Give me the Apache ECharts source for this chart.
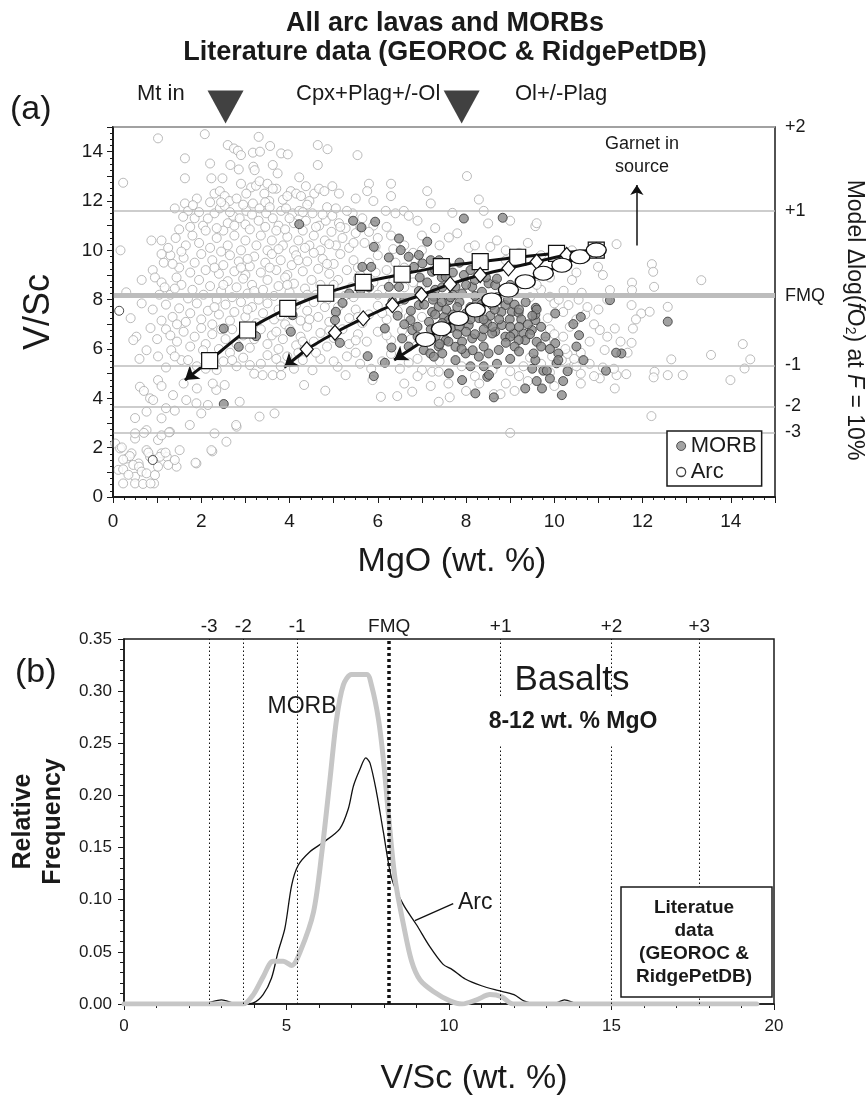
<!DOCTYPE html>
<html><head><meta charset="utf-8">
<script src="https://cdn.jsdelivr.net/npm/echarts@6/dist/echarts.min.js"></script>
<style>html,body{margin:0;padding:0;background:#fff}#c{width:866px;height:1097px}</style>
</head><body><div id="c"></div>
<script>
// ---------- Panel (a): scatter data (MgO wt.%, V/Sc) ----------
const arcPoints = [
[1.02,14.54],[2.08,14.71],[3.30,14.60],[1.63,13.73],[2.20,13.52],[2.60,14.27],[2.74,14.13],[2.83,14.04],[2.90,13.86],[3.17,13.96],[3.33,14.0],[2.66,13.46],[2.85,13.28],[3.18,13.39],[3.21,13.25],[3.56,14.23],[3.62,13.46],[3.73,13.12],[3.81,13.93],[3.96,13.89],[4.64,14.27],[4.86,14.10],[4.64,13.46],[5.54,13.86],
[1.63,12.92],[2.23,12.92],[2.48,12.92],[2.9,12.7],[3.13,12.55],[3.24,12.62],[3.32,12.8],[3.5,12.7],[4.22,12.96],[5.8,12.7],[0.23,12.74],[3.7,12.5],
[2.30,12.3],[2.42,12.4],[2.53,12.2],[2.64,12.0],[3.02,12.3],[3.43,12.3],[3.54,12.0],[3.62,12.5],[4.03,12.4],[4.15,12.3],[4.26,12.2],[4.37,12.6],[4.56,12.3],[4.67,12.5],[4.79,12.4],[4.97,12.6],[5.12,12.3],[5.76,12.4],[7.12,12.4],[1.9,12.1],[2.8,12.1],[3.85,12.05],[4.45,12.0],
[1.63,11.9],[1.70,11.6],[1.85,11.3],[2.04,11.0],[2.30,11.5],[2.42,11.7],[2.53,11.8],[2.72,11.4],[2.87,11.3],[3.02,11.6],[3.17,11.9],[3.32,11.7],[3.47,11.5],[3.62,11.3],[3.81,11.6],[3.92,11.7],[4.07,11.5],[4.22,11.6],[4.37,11.2],[4.52,11.5],[4.67,11.0],[4.82,11.2],[4.97,11.4],[5.12,11.1],[5.27,10.9],[5.43,11.5],[5.65,11.3],[6.18,11.6],[6.40,11.5],[6.59,11.6],[6.70,11.4],[1.40,11.7],[1.81,11.83],[2.15,11.29],[1.59,11.36],[2.6,11.1],[3.0,11.05],[3.3,11.2],[3.75,11.0],[4.1,11.1],[5.9,11.0],[6.9,11.2],
[0.87,10.4],[1.10,10.4],[0.17,10.0],[1.42,10.5],[1.65,10.2],[1.8,10.6],[1.95,10.3],[2.1,10.8],[2.2,10.1],[2.35,10.5],[2.5,10.8],[2.6,10.2],[2.75,10.6],[2.9,10.0],[3.0,10.4],[3.1,10.85],[3.25,10.2],[3.35,10.6],[3.5,10.0],[3.6,10.4],[3.7,10.8],[3.85,10.2],[3.95,10.55],[4.1,10.0],[4.2,10.4],[4.3,10.8],[4.45,10.2],[4.55,10.6],[4.7,10.0],[4.8,10.4],[4.95,10.75],[5.05,10.2],[5.2,10.5],[5.35,10.1],[5.5,10.7],[5.7,10.3],[6.0,10.5],[6.3,10.6],[6.6,10.2],[7.0,10.6],
[0.9,9.2],[1.15,9.5],[1.3,9.8],[1.5,9.3],[1.6,9.7],[1.75,9.1],[1.85,9.5],[2.0,9.85],[2.1,9.2],[2.25,9.6],[2.4,9.05],[2.5,9.4],[2.65,9.8],[2.75,9.15],[2.85,9.55],[3.0,9.0],[3.1,9.35],[3.2,9.75],[3.35,9.1],[3.45,9.5],[3.6,9.85],[3.7,9.2],[3.8,9.6],[3.95,9.0],[4.05,9.4],[4.15,9.8],[4.3,9.15],[4.4,9.55],[4.55,9.9],[4.65,9.25],[4.75,9.65],[4.9,9.05],[5.0,9.45],[5.15,9.85],[5.3,9.2],[5.45,9.6],[5.6,9.0],[5.8,9.5],[6.0,9.8],[6.2,9.2],[6.4,9.5],[6.8,9.9],
[0.65,8.8],[0.95,8.9],[1.10,8.7],[1.17,8.5],[1.44,8.9],[1.3,8.2],[1.55,8.6],[1.7,8.05],[1.8,8.4],[1.95,8.8],[2.05,8.2],[2.2,8.55],[2.35,8.0],[2.45,8.35],[2.6,8.75],[2.7,8.1],[2.8,8.5],[2.95,8.85],[3.05,8.25],[3.15,8.6],[3.3,8.0],[3.4,8.4],[3.5,8.8],[3.65,8.15],[3.75,8.55],[3.9,8.9],[4.0,8.3],[4.1,8.65],[4.25,8.05],[4.35,8.45],[4.5,8.8],[4.6,8.2],[4.7,8.6],[4.85,8.0],[4.95,8.4],[5.1,8.8],[5.25,8.15],[5.4,8.5],[5.55,8.85],[5.7,8.3],[5.9,8.7],[6.1,8.4],[6.35,8.75],[6.6,8.5],[0.3,8.3],
[0.65,7.85],[0.9,7.6],[1.2,7.8],[1.35,7.3],[1.5,7.65],[1.65,7.1],[1.75,7.45],[1.9,7.85],[2.0,7.2],[2.15,7.55],[2.25,7.0],[2.4,7.4],[2.55,7.8],[2.65,7.15],[2.75,7.5],[2.9,7.9],[3.0,7.3],[3.15,7.7],[3.25,7.05],[3.4,7.45],[3.5,7.85],[3.65,7.2],[3.75,7.6],[3.9,7.0],[4.0,7.4],[4.15,7.8],[4.25,7.15],[4.4,7.55],[4.55,7.9],[4.65,7.3],[4.8,7.7],[4.9,7.1],[5.05,7.45],[5.2,7.85],[5.35,7.25],[5.5,7.6],[5.65,7.05],[5.8,7.4],[6.0,7.75],[6.2,7.2],[6.45,7.55],[6.7,7.3],[0.4,7.25],
[0.53,6.5],[0.46,6.36],[0.76,5.95],[1.0,6.4],[1.2,6.8],[1.32,5.95],[1.45,6.3],[1.6,6.7],[1.75,6.1],[1.85,6.5],[2.0,6.85],[2.1,6.2],[2.25,6.6],[2.4,6.0],[2.55,6.4],[2.7,6.8],[2.8,6.2],[2.95,6.55],[3.1,6.05],[3.2,6.4],[3.35,6.8],[3.5,6.2],[3.6,6.55],[3.75,6.0],[3.85,6.4],[4.0,6.8],[4.15,6.15],[4.25,6.5],[4.4,6.9],[4.55,6.3],[4.7,6.65],[4.85,6.1],[5.0,6.45],[5.2,6.8],[5.35,6.2],[5.55,6.6],[5.75,6.3],[6.0,6.7],[6.3,6.35],[6.55,6.75],
[1.02,5.7],[1.55,5.55],[1.70,5.55],[2.04,5.95],[1.9,5.3],[2.2,5.6],[2.35,5.15],[2.5,5.5],[2.65,5.85],[2.8,5.3],[2.95,5.65],[3.2,5.0],[3.35,5.4],[3.5,5.75],[3.62,4.94],[3.8,5.3],[3.95,5.7],[4.1,5.2],[4.3,5.55],[4.52,5.14],[4.7,5.6],[5.09,5.28],[5.3,5.7],[5.6,5.4],[6.1,5.5],[6.5,5.2],[6.9,5.6],[7.23,5.08],[7.38,5.08],
[0.61,4.47],[0.7,4.3],[0.84,4.0],[1.02,4.74],[1.10,4.5],[1.36,4.13],[1.66,3.93],[2.34,4.34],[2.53,4.54],[2.26,4.6],[2.87,3.86],[3.39,4.94],[3.81,4.94],[4.33,4.54],[4.81,4.31],[5.27,4.94],[5.88,4.74],[6.07,4.06],[6.44,4.09],[6.78,4.27],[7.38,3.86],[1.6,4.6],[1.9,4.4],
[0.76,3.46],[0.91,3.93],[1.10,3.19],[1.89,3.8],[2.0,3.39],[2.15,3.73],[3.32,3.26],[3.66,3.39],[2.8,2.85],[1.4,3.5],[0.5,3.2],[1.2,3.6],
[0.76,2.71],[0.50,2.37],[0.05,2.17],[0.16,1.97],[1.02,2.31],[1.10,2.5],[1.29,2.64],[1.74,2.92],[2.30,2.58],[2.57,2.24],[2.79,2.92],[0.5,2.58],[0.7,2.6],[1.27,2.62],[2.25,1.85],
[0.31,1.56],[0.42,1.77],[0.58,1.36],[0.76,1.9],[0.84,1.63],[1.10,1.77],[1.22,1.63],[1.44,1.23],[1.51,1.9],[1.89,1.36],[2.23,1.9],[0.20,2.01],[0.38,1.66],[0.23,1.52],[0.12,1.1],[0.23,1.12],[0.46,1.3],[0.59,1.23],[0.50,0.82],[0.23,0.55],[0.50,0.55],[0.68,0.53],[0.93,0.55],[0.65,1.03],[0.76,0.96],[0.95,0.89],[0.80,1.8],[1.02,1.23],[1.06,1.63],[1.19,1.80],[1.25,1.30],[1.40,1.50],[1.87,1.39],[0.85,0.55],[0.35,0.9],
[2.45,11.95],[2.95,11.85],[3.45,11.95],[3.95,12.2],[4.4,11.85],[4.85,11.75],[5.3,11.6],[5.5,12.1],[2.2,11.95],[1.95,11.55],[2.65,11.55],[3.15,11.45],[3.55,11.75],[4.0,11.3],[4.3,11.55],[4.75,11.45],[5.05,11.7],[5.6,10.95],[1.5,10.85],[1.75,10.95],[2.35,10.9],[2.75,11.0],[3.45,10.95],[3.9,10.85],[4.6,10.95],[5.15,10.95],[5.8,10.75],[6.2,10.95],[1.25,10.1],[1.55,9.95],[2.45,9.95],[3.05,9.65],[3.75,10.05],[4.35,10.1],[4.9,10.25],[5.45,10.3],[5.95,10.15],[6.35,10.05],[1.1,9.85],[1.35,9.45],[2.3,9.3],[2.9,9.3],[3.55,9.3],[4.2,9.6],[4.85,9.45],[5.55,9.3],[5.95,9.1],[6.6,9.3],[1.05,8.2],[1.4,8.45],[2.5,8.6],[3.2,8.35],[3.95,8.6],[4.4,8.2],[5.0,8.6],[5.45,8.1],[6.0,8.2],[6.8,8.7],[1.1,7.15],[1.45,7.0],[2.3,7.7],[3.05,7.6],[3.8,7.35],[4.45,7.2],[5.1,7.7],[5.55,7.3],[6.1,7.45],[6.5,7.95],[0.85,6.85],[1.3,6.55],[2.45,6.8],[3.05,6.7],[3.7,6.7],[4.3,6.3],[4.9,6.75],[5.5,6.35],[6.2,6.55],[6.75,6.4],[0.6,5.6],[1.2,5.25],[1.4,5.7],[2.1,5.2],[2.7,5.55],[3.1,5.35],[3.7,5.6],[4.2,5.85],[4.6,5.85],[5.0,5.5],[5.5,5.85],[5.85,5.2],[6.3,5.8],[6.7,5.45],[7.0,5.15],
[8.02,13.01],[8.29,12.06],[7.69,11.52],[8.50,11.09],[9.57,10.98],[9.6,11.1],[7.80,10.69],[7.61,10.52],[8.06,10.10],[8.2,10.2],[8.55,10.14],[9.2,9.9],[10.99,9.33],[11.41,10.25],[12.21,9.44],[12.24,9.13],[11.76,8.69],[11.76,8.39],[12.26,8.52],[13.33,8.79],[11.26,8.39],[10.62,8.28],[10.21,8.36],[10.55,8.0],[9.9,8.12],[10.0,7.85],[10.32,7.78],[11.03,6.77],[11.37,6.83],[11.75,7.78],[11.97,7.44],[12.16,7.51],[12.57,7.71],[11.85,7.2],[11.78,6.83],[11.75,6.25],[11.14,5.96],[11.66,5.85],[12.65,5.58],[12.57,4.94],[12.91,4.94],[12.27,5.08],[12.25,4.85],[11.63,4.98],[11.41,4.94],[11.03,4.81],[11.37,4.4],[12.2,3.28],[13.55,5.76],[14.27,6.2],[14.44,5.58],[14.31,5.21],[13.99,4.74],[9.0,2.6],[7.63,4.04],[8.63,4.17],[8.78,4.17],[10.17,5.55],[10.32,5.21],[10.45,5.35],[9.9,5.05],[10.6,5.0],[10.5,5.3],[9.2,4.9],[8.9,4.6],[8.2,4.9],[8.0,4.3],[7.9,5.3],[10.8,6.3],[10.9,7.0],[10.7,7.4],[9.9,6.8],[10.2,6.5],[7.3,10.9],[7.0,10.0],[6.85,9.6],[7.3,9.3],[9.2,8.6],[9.7,8.4],[10.4,8.8],[8.9,9.6],[9.4,10.3],[7.2,11.9],[6.3,12.7],[6.3,12.2],[5.9,12.0],
[9.3,5.3],[9.45,5.65],[9.7,5.4],[9.95,5.7],[10.3,5.8],[10.45,5.6],[10.6,5.85],[10.25,6.0],[9.8,6.3],[10.0,6.6],[10.35,6.9],[10.5,7.2],[10.2,7.5],[9.85,7.25],[10.75,7.7],[11.0,7.6],[11.2,8.0],[10.1,8.0],[9.45,8.1],[9.6,8.6],[9.9,8.9],[10.5,9.1],[11.1,9.0],[10.9,4.9],[11.1,5.25],[11.35,5.2],[10.8,5.4],[11.5,6.3],[11.2,6.5],[9.0,5.1],[8.6,5.15],[8.3,4.6],[9.4,4.7],[10.0,4.5],[10.6,4.6],[9.1,4.3],[7.6,4.6],[7.2,4.5],[6.9,4.9],[6.6,4.6],[7.4,5.5],[7.0,7.3],[7.0,8.6],[7.4,10.2],[8.7,10.4],[8.9,10.0],[9.7,9.8],[10.4,10.0],[8.4,11.6],[9.0,11.2]
];
const arcDarkPoints = [[0.14,7.55],[0.9,1.5]];
const morbPoints = [
[4.22,11.06],[5.44,11.2],[5.63,10.93],[5.94,11.16],[5.91,10.14],[6.48,10.48],[6.52,10.01],[6.93,9.81],[7.12,10.35],[6.25,9.71],[5.65,9.33],[5.85,9.33],[5.61,8.39],[5.8,8.5],[5.35,8.25],[5.20,7.87],[5.05,7.51],[5.03,7.17],[4.03,6.7],[4.07,7.37],[2.51,6.83],[3.24,6.52],[2.85,6.09],[5.14,6.25],[5.77,5.71],[5.91,4.9],[6.16,5.44],[6.31,6.06],[6.16,6.83],[6.55,6.43],[6.74,7.17],[6.78,6.77],[6.93,7.78],[7.16,7.1],[7.23,7.5],[7.38,7.71],[7.5,7.3],[7.04,5.96],[7.19,5.82],[7.38,6.1],[2.51,3.77],[6.33,7.92],[6.25,8.52],[6.48,8.52],[6.63,8.93],[6.82,9.33],[6.70,9.74],[7.01,9.47],[7.23,9.13],[7.12,8.7],[6.93,8.35],[7.3,8.4],[7.45,8.9],[6.6,8.0],[6.95,8.9],[7.2,9.6],
[7.95,11.29],[8.83,11.32],[7.39,9.6],[7.3,9.2],[7.54,8.93],[7.46,8.5],[7.27,8.12],[7.61,7.98],[7.76,8.52],[7.91,8.25],[8.14,8.52],[8.36,8.32],[8.51,8.66],[8.66,8.59],[8.25,7.91],[8.59,7.78],[8.89,7.78],[9.04,7.51],[9.19,7.47],[8.99,7.2],[8.81,6.97],[8.66,6.7],[8.48,7.04],[8.29,7.25],[8.06,6.97],[7.84,6.9],[7.61,7.17],[7.46,7.05],[7.31,6.5],[7.54,6.36],[7.76,6.09],[7.91,6.3],[8.14,6.43],[8.36,6.5],[8.59,6.63],[8.89,6.5],[9.08,6.63],[9.3,6.63],[9.49,6.77],[9.57,7.17],[9.58,7.67],[9.57,7.4],[9.34,6.36],[9.19,6.36],[9.0,6.5],[8.74,5.96],[8.51,5.82],[8.29,5.69],[7.99,5.82],[7.76,5.55],[7.46,5.82],[7.27,5.69],[7.61,5.01],[7.91,4.74],[8.21,4.2],[8.63,4.04],[8.48,4.87],[8.52,4.95],[9.34,4.4],[9.72,4.4],[10.17,4.13],[9.75,5.12],[9.83,5.12],[10.05,5.42],[10.09,5.82],[10.02,6.23],[10.09,5.55],[9.57,5.55],[9.53,5.82],[9.6,6.29],[10.02,7.44],[9.6,7.6],[10.43,7.01],[10.56,6.56],[10.66,5.55],[11.17,5.12],[11.26,7.98],[11.52,5.82],[12.57,7.11],
[7.7,8.2],[7.85,7.9],[8.0,8.6],[8.1,7.7],[8.2,8.15],[8.3,7.5],[8.45,7.95],[8.55,7.35],[8.7,8.1],[8.8,7.5],[8.95,8.0],[9.1,7.8],[9.25,7.2],[9.4,7.0],[9.45,6.6],[9.2,6.9],[9.0,6.9],[8.75,7.2],[8.6,6.9],[8.4,6.8],[8.2,6.6],[8.0,6.7],[7.8,6.6],[7.65,6.85],[7.5,6.7],[7.4,6.9],[7.7,7.4],[7.9,7.3],[8.1,7.2],[7.55,7.6],[7.8,7.7],[8.0,7.45],[8.35,7.8],[8.65,7.6],[8.4,7.2],[7.3,7.4],[7.65,8.1],[7.45,7.9],[8.9,6.25],[9.1,6.1],[8.4,6.1],[8.15,5.95],[7.9,6.0],[7.6,6.3],[7.4,6.2],[7.1,6.4],[7.2,6.8],[6.9,6.5],[6.7,6.1],[6.9,6.9],[6.6,7.0],[6.45,7.35],[6.75,7.55],[7.05,7.8],[7.25,8.0],[8.85,8.3],[9.0,8.6],[8.7,8.85],[8.45,8.9],[8.2,8.8],[7.95,9.0],[7.7,9.1],[7.55,9.4],[7.85,9.5],[8.1,9.2],[9.2,7.6],[9.35,7.9],[9.5,7.35],[9.7,6.9],[9.8,6.5],[9.7,6.1],[9.9,6.0],
[9.5,5.2],[9.9,4.8],[10.3,5.1],[8.4,5.3],[8.7,5.4],[9.0,5.6],[9.2,5.9],[8.1,5.3],[9.6,4.7],[10.2,4.7],[10.5,6.1],[10.6,7.3],[11.4,5.85]
];
// model fractional-crystallisation paths (marker points), arrow tips at low-MgO end
const modelSquares  = [[2.19,5.53],[3.05,6.77],[3.96,7.65],[4.82,8.26],[5.67,8.70],[6.55,9.03],[7.44,9.34],[8.32,9.54],[9.17,9.72],[10.05,9.88],[10.95,10.01]];
const modelSquaresTip = [1.63,4.74];
const modelDiamonds = [[4.39,5.99],[5.03,6.66],[5.67,7.24],[6.33,7.78],[6.99,8.19],[7.64,8.63],[8.32,9.0],[8.96,9.27],[9.6,9.54],[10.28,9.81],[10.95,10.01]];
const modelDiamondsTip = [3.88,5.26];
const modelEllipses = [[7.08,6.39],[7.44,6.82],[7.83,7.24],[8.21,7.58],[8.58,7.99],[8.96,8.39],[9.34,8.73],[9.75,9.07],[10.17,9.40],[10.58,9.74],[10.95,10.01]];
const modelEllipsesTip = [6.37,5.55];
const phaseBoundaries = [2.55, 7.9];           // Mt in / Cpx+Plag+/-Ol boundaries (MgO)
const fo2LevelsA = [2.62, 3.67, 5.33, 8.16, 11.59, 15.0];
const fo2LabelsA = ['-3', '-2', '-1', 'FMQ', '+1', '+2'];
const garnetArrow = [[11.87,10.2],[11.87,12.65]];

// ---------- Panel (b): relative frequency of V/Sc ----------
const morbFreq = [[0,0],[1,0],[2,0],[3,0],[3.4,0],[3.67,0],[3.98,0.009],[4.28,0.026],[4.59,0.041],[4.9,0.041],[5.16,0.037],[5.42,0.05],[5.83,0.088],[6.09,0.146],[6.34,0.216],[6.54,0.273],[6.75,0.306],[7.0,0.316],[7.47,0.316],[7.62,0.305],[7.83,0.273],[7.98,0.235],[8.13,0.184],[8.34,0.12],[8.6,0.076],[8.85,0.041],[9.11,0.023],[9.52,0.012],[10.03,0.003],[10.4,0.0],[10.85,0.004],[11.26,0.009],[11.62,0.007],[11.97,0],[13,0],[15,0],[17,0],[19.47,0]];
const arcFreq = [[0,0],[2.4,0],[2.58,0.001],[3.0,0.004],[3.37,0.001],[3.67,0],[3.98,0.001],[4.28,0.009],[4.54,0.025],[4.74,0.05],[4.95,0.0725],[5.16,0.114],[5.36,0.133],[5.72,0.146],[6.13,0.155],[6.64,0.168],[6.9,0.187],[7.06,0.209],[7.26,0.225],[7.44,0.236],[7.57,0.231],[7.77,0.203],[7.98,0.165],[8.24,0.12],[8.6,0.095],[9.0,0.076],[9.41,0.055],[9.82,0.038],[10.1,0.033],[10.5,0.024],[11.0,0.0175],[11.5,0.013],[12.0,0.009],[12.3,0.003],[12.7,0],[13.3,0.001],[13.55,0.004],[14.0,0],[15,0],[19.47,0]];
const fo2LevelsB = [2.62, 3.67, 5.33, 8.16, 11.59, 15.0, 17.7];
const fo2LabelsB = ['-3', '-2', '-1', 'FMQ', '+1', '+2', '+3'];
const arcLeader = [[8.95,0.080],[10.13,0.0963]];

const FF = "'Liberation Sans', Arial, Helvetica, sans-serif";
const K = '#1a1a1a';
const chart = echarts.init(document.getElementById('c'), null, {renderer: 'canvas'});

function txt(x, y, text, size, opts) {
  return Object.assign({type: 'text', x: x, y: y, z: 50,
    style: Object.assign({text: text, font: (opts && opts.bold ? 'bold ' : '') + size + 'px ' + FF,
      fill: K, align: 'left', verticalAlign: 'middle'}, (opts && opts.style) || {})}, (opts && opts.el) || {});
}

const option = {
  animation: false,
  textStyle: {fontFamily: FF, color: K},
  grid: [
    {left: 113, top: 127, width: 662, height: 370, show: true, borderColor: K, borderWidth: 1.5, backgroundColor: '#fff'},
    {left: 124, top: 639, width: 650, height: 367, show: true, borderColor: K, borderWidth: 1.5, backgroundColor: '#fff'}
  ],
  legend: {
    data: [
      {name: 'MORB', itemStyle: {color: '#8c8c8c', borderColor: '#333', borderWidth: 1}},
      {name: 'Arc', itemStyle: {color: '#fff', borderColor: '#111', borderWidth: 1.3}}
    ],
    orient: 'vertical', left: 667, top: 431, icon: 'circle',
    itemWidth: 9, itemHeight: 9, itemGap: 4,
    padding: [4, 5, 3, 9], borderColor: K, borderWidth: 1.5, backgroundColor: '#fff',
    textStyle: {fontSize: 22, color: K, fontFamily: FF}, z: 20, selectedMode: false
  },
  xAxis: [
    {gridIndex: 0, type: 'value', min: 0, max: 15, interval: 1,
     axisLine: {lineStyle: {color: K, width: 1.5}},
     axisTick: {length: 6, lineStyle: {color: K}},
     minorTick: {show: true, splitNumber: 4, length: 3, lineStyle: {color: K}},
     splitLine: {show: false},
     axisLabel: {formatter: v => (v % 2 === 0 && v < 15) ? String(v) : '', fontSize: 19, color: K, margin: 15},
     name: 'MgO (wt. %)', nameLocation: 'middle', nameGap: 48,
     nameTextStyle: {fontSize: 34, color: K, padding: [0, 0, 0, 16]}},
    {gridIndex: 1, type: 'value', min: 0, max: 20, interval: 5,
     axisLine: {lineStyle: {color: K, width: 1.5}},
     axisTick: {length: 6, lineStyle: {color: K}},
     minorTick: {show: true, splitNumber: 5, length: 4, lineStyle: {color: K}},
     splitLine: {show: false},
     axisLabel: {fontSize: 17, color: K, margin: 14},
     name: 'V/Sc (wt. %)', nameLocation: 'middle', nameGap: 58,
     nameTextStyle: {fontSize: 34, color: K, padding: [0, 0, 0, 50]}},
    {gridIndex: 0, type: 'value', min: 0, max: 15, position: 'top', z: 5,
     axisLine: {lineStyle: {color: K, width: 1.5}}, axisTick: {show: false}, axisLabel: {show: false}, splitLine: {show: false}}
  ],
  yAxis: [
    {gridIndex: 0, type: 'value', min: 0, max: 15, interval: 1,
     axisLine: {lineStyle: {color: K, width: 1.5}},
     axisTick: {length: 6, lineStyle: {color: K}},
     minorTick: {show: true, splitNumber: 4, length: 3, lineStyle: {color: K}},
     splitLine: {show: false},
     axisLabel: {formatter: v => (v % 2 === 0 && v < 15) ? String(v) : '', fontSize: 19, color: K, margin: 10},
     name: 'V/Sc', nameLocation: 'middle', nameGap: 56,
     nameTextStyle: {fontSize: 36, color: K}},
    {gridIndex: 1, type: 'value', min: 0, max: 0.35, interval: 0.05,
     axisLine: {lineStyle: {color: K, width: 1.5}},
     axisTick: {length: 6, lineStyle: {color: K}},
     minorTick: {show: true, splitNumber: 5, length: 4, lineStyle: {color: K}},
     splitLine: {show: false},
     axisLabel: {formatter: v => v.toFixed(2), fontSize: 17, color: K, margin: 12},
     name: 'Relative\nFrequency', nameLocation: 'middle', nameGap: 45,
     nameTextStyle: {fontSize: 25, fontWeight: 'bold', color: K, lineHeight: 30}},
    {gridIndex: 0, type: 'value', min: 0, max: 15, position: 'right', z: 5,
     axisLine: {lineStyle: {color: K, width: 1.5}}, axisTick: {show: false}, axisLabel: {show: false}, splitLine: {show: false}}
  ],
  series: [
    // fO2 reference lines, panel (a)
    {type: 'line', xAxisIndex: 0, yAxisIndex: 0, data: [], z: 1, silent: true,
     markLine: {silent: true, symbol: 'none', animation: false,
       label: {position: 'end', distance: 10, fontSize: 18, color: K, fontFamily: FF},
       data: fo2LevelsA.map((v, i) => ({yAxis: v,
         lineStyle: {color: '#bdbdbd', width: fo2LabelsA[i] === 'FMQ' ? 5 : 1.5, type: 'solid'},
         label: {formatter: fo2LabelsA[i]}}))}},
    {name: 'Arc', type: 'scatter', xAxisIndex: 0, yAxisIndex: 0, data: arcPoints, z: 2,
     symbol: 'circle', symbolSize: 9, itemStyle: {color: '#fff', borderColor: '#a9a9a9', borderWidth: 1}},
    {type: 'scatter', xAxisIndex: 0, yAxisIndex: 0, data: arcDarkPoints, z: 2,
     symbol: 'circle', symbolSize: 9, itemStyle: {color: '#fff', borderColor: '#222', borderWidth: 1}},
    {name: 'MORB', type: 'scatter', xAxisIndex: 0, yAxisIndex: 0, data: morbPoints, z: 3,
     symbol: 'circle', symbolSize: 9, itemStyle: {color: '#8a8a8a', borderColor: '#333', borderWidth: 1}},
    // arrow segments of the model paths
    {type: 'lines', coordinateSystem: 'cartesian2d', xAxisIndex: 0, yAxisIndex: 0, z: 4,
     symbol: ['none', 'arrow'], symbolSize: 13,
     lineStyle: {color: '#111', width: 3, opacity: 1},
     data: [{coords: [modelSquares[0], modelSquaresTip]}, {coords: [modelDiamonds[0], modelDiamondsTip]}, {coords: [modelEllipses[0], modelEllipsesTip]}]},
    {type: 'line', xAxisIndex: 0, yAxisIndex: 0, data: modelSquares, z: 5, smooth: 0.25,
     symbol: 'rect', symbolSize: 16, showSymbol: true,
     lineStyle: {color: '#111', width: 3}, itemStyle: {color: '#fff', borderColor: '#111', borderWidth: 1.2}},
    {type: 'line', xAxisIndex: 0, yAxisIndex: 0, data: modelDiamonds, z: 6, smooth: 0.25,
     symbol: 'diamond', symbolSize: [13, 15], showSymbol: true,
     lineStyle: {color: '#111', width: 3}, itemStyle: {color: '#fff', borderColor: '#111', borderWidth: 1.2}},
    {type: 'line', xAxisIndex: 0, yAxisIndex: 0, data: modelEllipses, z: 7, smooth: 0.25,
     symbol: 'circle', symbolSize: [20, 14], showSymbol: true,
     lineStyle: {color: '#111', width: 3}, itemStyle: {color: '#fff', borderColor: '#111', borderWidth: 1.2}},
    // garnet arrow
    {type: 'lines', coordinateSystem: 'cartesian2d', xAxisIndex: 0, yAxisIndex: 0, z: 8,
     symbol: ['none', 'arrow'], symbolSize: 10, lineStyle: {color: '#111', width: 1.5, opacity: 1},
     data: [{coords: garnetArrow}]},
    // phase-in triangles above panel (a)
    {type: 'scatter', xAxisIndex: 0, yAxisIndex: 0, z: 10, clip: false,
     data: phaseBoundaries.map(x => [x, 15]),
     symbol: 'triangle', symbolRotate: 180, symbolSize: [36, 33], symbolOffset: [0, -20],
     itemStyle: {color: '#111'}},
    // panel (b) fO2 reference lines
    {type: 'line', xAxisIndex: 1, yAxisIndex: 1, data: [], z: 1, silent: true,
     markLine: {silent: true, symbol: 'none', animation: false,
       label: {position: 'end', distance: 3, fontSize: 19, color: K, fontFamily: FF},
       data: fo2LevelsB.map((v, i) => ({xAxis: v,
         lineStyle: {color: '#111', width: fo2LabelsB[i] === 'FMQ' ? 3.5 : 1, type: fo2LabelsB[i] === 'FMQ' ? [3, 3] : [1.5, 2.5]},
         label: {formatter: fo2LabelsB[i]}}))}},
    {type: 'line', xAxisIndex: 1, yAxisIndex: 1, data: arcFreq, z: 3, smooth: 0.3, showSymbol: false,
     lineStyle: {color: '#111', width: 1.3}},
    {type: 'line', xAxisIndex: 1, yAxisIndex: 1, data: morbFreq, z: 4, smooth: 0.3, showSymbol: false,
     lineStyle: {color: '#c6c6c6', width: 5, cap: 'round', join: 'round'}},
    {type: 'lines', coordinateSystem: 'cartesian2d', xAxisIndex: 1, yAxisIndex: 1, z: 5,
     symbol: ['none', 'none'], lineStyle: {color: '#111', width: 1.3, opacity: 1},
     data: [{coords: arcLeader}]}
  ],
  graphic: [
    txt(445, 24, 'All arc lavas and MORBs', 27, {bold: true, style: {align: 'center'}}),
    txt(445, 53, 'Literature data (GEOROC & RidgePetDB)', 27, {bold: true, style: {align: 'center'}}),
    txt(10, 110, '(a)', 34),
    txt(137, 94, 'Mt in', 22),
    txt(296, 94, 'Cpx+Plag+/-Ol', 22),
    txt(515, 94, 'Ol+/-Plag', 22),
    txt(642, 156, 'Garnet in\nsource', 18, {style: {align: 'center', lineHeight: 23}}),
    {type: 'text', x: 854, y: 320, rotation: -Math.PI / 2, z: 50,
     style: {text: 'Model Δlog({i|f}O{s|2}) at {i|F} = 10%', font: '23px ' + FF, fill: K,
       align: 'center', verticalAlign: 'middle',
       rich: {i: {fontStyle: 'italic', fontSize: 23, fontFamily: FF, fill: K},
              s: {fontSize: 14, fontFamily: FF, fill: K, verticalAlign: 'bottom', padding: [9, 0, 0, 0]}}}},
    txt(15, 673, '(b)', 34),
    txt(302, 707, 'MORB', 23, {style: {align: 'center'}}),
    txt(458, 903, 'Arc', 23),
    {type: 'rect', z: 45, shape: {x: 486, y: 697, width: 175, height: 47}, style: {fill: '#fff'}},
    txt(572, 680, 'Basalts', 35, {style: {align: 'center'}}),
    txt(573, 722, '8-12 wt. % MgO', 23, {bold: true, style: {align: 'center'}}),
    {type: 'rect', z: 45, shape: {x: 621, y: 887, width: 151, height: 110}, style: {fill: '#fff', stroke: K, lineWidth: 1.5}},
    txt(694, 942, 'Literatue\ndata\n(GEOROC &\nRidgePetDB)', 19, {bold: true, style: {align: 'center', lineHeight: 23}})
  ]
};
chart.setOption(option);
</script>
</body></html>
